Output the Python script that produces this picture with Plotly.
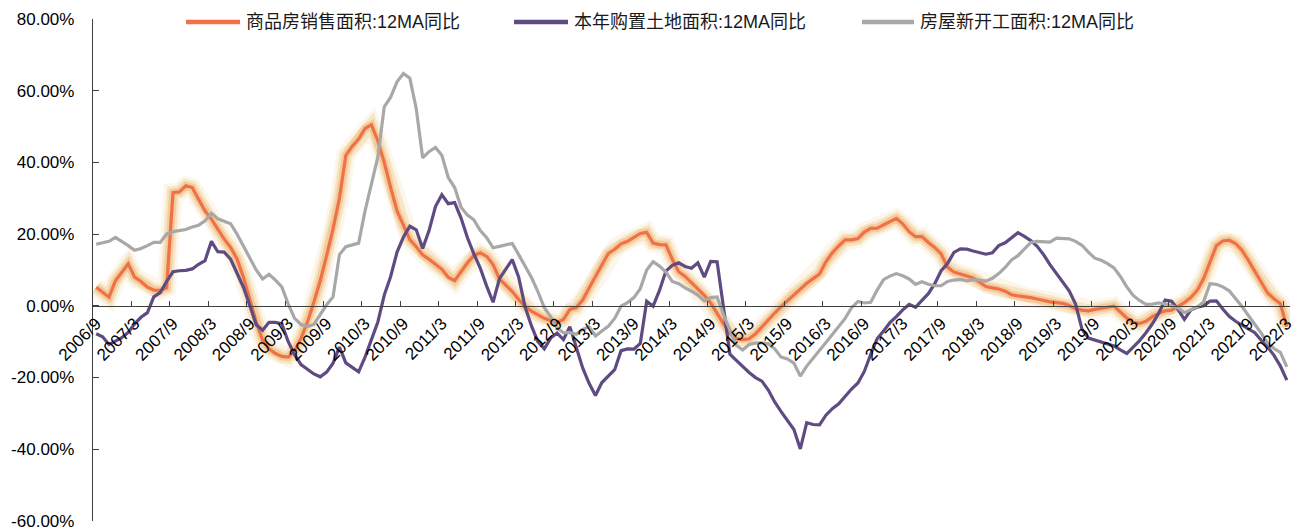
import plotly.graph_objects as go

# ---------------- data ----------------
start_year, start_month, n_months = 2006, 9, 187
months = []
_y, _m = start_year, start_month
for _ in range(n_months):
    months.append(f"{_y}/{_m}")
    _m += 1
    if _m > 12:
        _m = 1
        _y += 1

sales_area = [
    5.2, 3.8, 2.4, 7.0, 9.4, 11.7, 8.0, 6.8, 5.2, 4.4, 4.3, 5.0, 31.6, 31.8, 33.5, 33.0, 29.7, 26.5, 24.2, 21.4,
    18.6, 16.3, 13.1, 8.0, 1.9, -4.5, -9.6, -12.0, -13.3, -14.1, -14.3,
    -12.5, -9.0, -4.5, 1.0, 7.0, 14.0, 21.5, 30.0, 42.0, 44.5, 46.5, 49.5, 50.5, 46.0, 40.0, 33.0, 26.5, 22.5, 18.5,
    16.5, 14.2, 13.0, 11.5, 10.2, 8.0, 7.0, 9.5, 12.0, 14.0, 14.8,
    13.8, 11.5, 7.5, 5.7, 4.0, 1.8, -0.2, -1.5, -2.6, -3.5, -4.1, -4.6, -3.8, -1.0, -0.5, 1.6, 5.0, 8.2, 11.3, 14.6,
    15.8, 17.3, 18.0, 19.0, 20.2, 20.5, 17.5, 17.1, 17.0, 13.0,
    9.5, 8.2, 6.5, 4.6, 2.9, 0.8, -2.2, -5.0, -7.7, -9.2, -9.4, -9.2, -7.8, -5.8, -4.0, -2.0, -0.2, 1.5, 3.2, 4.8,
    6.3, 7.6, 8.9, 12.3, 14.8, 16.7, 18.4, 18.4, 18.8, 20.6, 21.6,
    21.7, 22.6, 23.5, 24.4, 22.9, 20.7, 19.3, 19.3, 17.7, 16.3, 14.5, 10.8, 9.4, 8.9, 8.5, 7.8, 6.6, 5.4, 5.0, 4.7,
    4.1, 3.1, 2.8, 2.6, 2.3, 1.9, 1.4, 1.1, 0.9, 0.7, 0.1, -0.8,
    -1.2, -1.4, -1.0, -0.7, -0.3, -0.1, -1.7, -3.4, -4.6, -4.9, -4.3, -3.0, -2.1, -1.4, -1.2, -0.2, 0.9, 2.3, 4.3, 7.6,
    12.5, 16.8, 18.1, 18.3, 17.4, 15.5, 12.7, 9.8, 6.9, 3.6, 2.0, 0.6, -5.8,
]

land_area = [
    -7.8, -8.6, -10.8, -9.9, -8.9, -7.4, -5.0, -3.2, -1.9, 2.5, 3.7, 6.8, 9.5, 9.8, 9.9, 10.3, 11.6, 12.6, 18.0, 15.1,
    15.0, 13.0, 9.3, 5.2, 0.1, -5.3, -6.8, -4.6, -4.6, -5.0, -10.0,
    -13.6, -16.4, -17.8, -19.0, -19.8, -18.5, -16.0, -11.5, -15.9, -17.2, -18.4, -14.3, -9.5, -4.5, 3.0, 8.2, 15.0, 19.2, 22.2,
    21.2, 16.0, 21.0, 27.7, 31.0, 28.5, 28.8, 24.5, 19.0, 14.5, 10.5,
    5.5, 1.0, 7.6, 10.3, 12.9, 8.0, -0.3, -5.6, -10.0, -12.0, -9.0, -7.6, -9.4, -5.8, -11.6, -17.3, -21.6, -25.0, -21.4, -19.6,
    -17.8, -12.5, -12.0, -12.1, -10.5, 1.3, -0.1, 4.3, 9.7, 11.3,
    12.0, 11.0, 10.5, 12.0, 8.0, 12.4, 12.3, -0.5, -13.5, -15.2, -17.0, -18.6, -20.0, -21.0, -23.5, -26.8, -29.5, -32.0, -34.5, -39.9,
    -32.6, -33.1, -33.2, -30.5, -28.7, -27.3, -25.1, -23.2, -21.5, -18.3, -13.5,
    -9.2, -7.0, -4.7, -3.0, -1.1, 0.4, -0.4, 1.5, 3.4, 6.2, 9.8, 11.8, 14.9, 15.9, 15.8, 15.3, 14.8, 14.4, 14.8, 16.8,
    17.6, 18.9, 20.4, 19.4, 18.2, 16.6, 14.3, 11.5, 9.0, 6.6, 4.2, 0.5,
    -6.5, -9.0, -9.5, -10.0, -10.5, -11.2, -12.3, -13.3, -11.5, -9.7, -7.5, -5.0, -2.0, 1.6, 1.3, -1.0, -3.8, -1.2, -0.4, 0.0,
    1.3, 1.4, -0.9, -2.9, -4.3, -5.3, -6.3, -7.5, -9.6, -11.5, -13.8, -16.8, -20.7,
]

new_starts = [
    17.2, 17.5, 18.0, 19.1, 18.0, 16.8, 15.5, 16.0, 16.8, 17.7, 17.7, 20.0, 20.7, 21.0, 21.3, 22.0, 22.5, 23.7, 25.8, 24.3,
    23.5, 22.9, 20.0, 16.8, 13.2, 10.0, 7.5, 8.8, 7.2, 5.3, 0.5,
    -3.5, -5.2, -5.8, -5.2, -2.5, 0.3, 2.5, 14.3, 16.5, 17.0, 17.5, 26.5, 34.0, 41.5, 55.5, 58.2, 62.5, 64.8, 63.5,
    55.0, 41.3, 43.0, 44.2, 42.0, 35.8, 33.0, 27.5, 25.3, 24.0, 21.0,
    19.0, 16.2, 16.6, 17.0, 17.4, 14.3, 11.0, 7.9, 4.0, -0.5, -3.1, -6.2, -7.5, -7.4, -7.9, -6.6, -5.8, -8.4, -7.0, -5.7,
    -3.5, -0.1, 0.9, 2.3, 4.8, 10.0, 12.3, 11.1, 9.4, 6.8,
    6.2, 5.0, 4.1, 3.0, 1.4, 2.3, 2.5, -2.5, -6.8, -11.0, -12.3, -10.8, -10.4, -10.3, -10.6, -12.0, -14.3, -14.8, -16.0, -19.6,
    -16.8, -14.5, -12.3, -10.2, -8.0, -5.8, -3.5, -0.5, 1.2, 0.8, 1.0,
    4.4, 7.3, 8.3, 9.0, 8.4, 7.5, 6.0, 6.7, 6.0, 5.6, 5.6, 6.8, 7.2, 7.4, 7.0, 7.3, 7.2, 6.9, 7.7, 9.0,
    10.7, 12.8, 14.0, 15.8, 17.7, 18.0, 17.9, 17.8, 18.9, 18.9, 18.7, 18.0,
    16.9, 15.0, 13.3, 12.7, 11.8, 10.6, 8.2, 5.3, 2.9, 1.5, 0.4, 0.5, 0.8, 0.6, -0.1, -0.6, -1.9, -1.0, -0.3, 1.1,
    6.2, 6.0, 5.3, 4.2, 2.1, -0.2, -2.7, -5.1, -7.6, -10.4, -11.9, -13.0, -17.0,
]

series_names = ["商品房销售面积:12MA同比", "本年购置土地面积:12MA同比", "房屋新开工面积:12MA同比"]
series_colors = ["#EF7049", "#5E4B82", "#A8A8A8"]
y_ticks = [-60, -40, -20, 0, 20, 40, 60, 80]

# ---------------- figure ----------------
W, H = 1300, 531
ML, MR, MT, MB = 93, 10, 19, 10
PW, PH = W - ML - MR, H - MT - MB

def px_x(px):
    return (px - ML) / PW

def px_y(py):
    return (H - MB - py) / PH

FONT = "Liberation Sans, Arial, Noto Sans CJK SC, sans-serif"

fig = go.Figure()

# glow behind the sales line
for w, c in [(19, "rgba(238,196,130,0.16)"), (13, "rgba(236,186,112,0.28)"), (8, "rgba(236,172,96,0.45)")]:
    fig.add_trace(go.Scatter(x=months, y=sales_area, mode="lines",
                             line=dict(color=c, width=w, shape="linear"),
                             hoverinfo="skip", showlegend=False))

for name, vals, col in zip(series_names, [sales_area, land_area, new_starts], series_colors):
    fig.add_trace(go.Scatter(x=months, y=vals, mode="lines", name=name,
                             line=dict(color=col, width=3.2),
                             hoverinfo="skip", showlegend=False))

# custom legend (top)
legend_pos = [(186, 240, 244), (514, 568, 572), (862, 914, 918)]
leg_y = 22
for (x0, x1, xt), name, col in zip(legend_pos, series_names, series_colors):
    fig.add_shape(type="line", xref="paper", yref="paper",
                  x0=px_x(x0), x1=px_x(x1), y0=px_y(leg_y), y1=px_y(leg_y),
                  line=dict(color=col, width=4.5))
    fig.add_annotation(xref="paper", yref="paper", x=px_x(xt), y=px_y(leg_y),
                       xanchor="left", yanchor="middle", showarrow=False,
                       text=name, font=dict(family=FONT, size=18, color="#1a1a1a"))

fig.update_layout(
    width=W, height=H,
    margin=dict(l=ML, r=MR, t=MT, b=MB, pad=0, autoexpand=False),
    paper_bgcolor="white", plot_bgcolor="white",
    font=dict(family=FONT, size=17, color="#000000"),
    showlegend=False,
    xaxis=dict(
        type="category",
        range=[-0.5, n_months - 0.5],
        tickmode="linear", tick0=0, dtick=6,
        tickson="boundaries",
        ticks="inside", ticklen=5, tickwidth=1, tickcolor="#404040",
        tickangle=-45,
        tickfont=dict(family=FONT, size=17, color="#000000"),
        showline=True, linecolor="#404040", linewidth=1.3,
        showgrid=False, zeroline=False,
        anchor="free", position=60 / 140,
        automargin=False,
    ),
    yaxis=dict(
        range=[-60.02, 80.02],
        tickmode="array", tickvals=y_ticks,
        ticktext=[f"{v:.2f}%" for v in y_ticks],
        ticks="inside", ticklen=6, tickwidth=1, tickcolor="#404040",
        tickfont=dict(family=FONT, size=17, color="#000000"),
        ticklabelstandoff=14,
        ticklabeloverflow="allow",
        showline=True, linecolor="#404040", linewidth=1.3,
        showgrid=False, zeroline=False,
        automargin=False,
    ),
)

fig.write_html("out.html", config={"displayModeBar": False})
